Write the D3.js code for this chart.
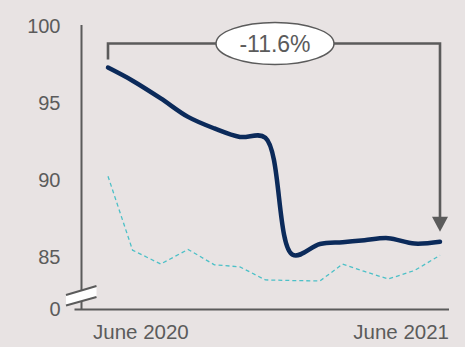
<!DOCTYPE html>
<html>
<head>
<meta charset="utf-8">
<script src="https://cdn.jsdelivr.net/npm/d3@7"></script>
<style>
  html, body { margin: 0; padding: 0; background: #e8e3e3; }
  svg { display: block; font-family: "Liberation Sans", Arial, sans-serif; }
</style>
</head>
<body>
<svg id="chart" width="465" height="347"></svg>
<script>
// Period end dates (4-weekly reporting periods)
const periods = ["2020-06-01","2020-06-28","2020-07-29","2020-08-28","2020-09-26","2020-10-24",
                 "2020-11-21","2020-12-21","2021-01-20","2021-02-14","2021-03-10","2021-04-05",
                 "2021-05-04","2021-06-01"];
// Main index (solid navy line)
const mainIndex = [97.3, 96.45, 95.3, 94.1, 93.35, 92.8, 92.75, 85.15, 85.85, 85.97, 86.1, 86.23, 85.88, 86.0];
// Comparison index (dashed teal line)
const compIndex = [90.25, 85.45, 84.55, 85.5, 84.5, 84.37, 83.52, 83.48, 83.45, 84.55, 84.07, 83.58, 84.13, 85.12];
// Y axis: values below 85 are cut, the floor is labelled 0
const axisFloor = 81.6;
const yTickValues = [axisFloor, 85, 90, 95, 100];
const yTickLabels = ["0", "85", "90", "95", "100"];
const xLabels = ["June 2020", "June 2021"];
const changeLabel = "-11.6%";

const grey = "#5b5b5b";
const navy = "#0b2a5a";
const teal = "#4cc0c7";

const parse = d3.timeParse("%Y-%m-%d");
const dates = periods.map(parse);

const svg = d3.select("#chart");

const x = d3.scaleTime()
  .domain([dates[0], dates[dates.length - 1]])
  .range([108, 440]);
const y = d3.scaleLinear()
  .domain([axisFloor, 100])
  .range([309.5, 26]);

const axisX = 81.5;
const baseY = y(axisFloor);

// Y axis labels
const yAxis = d3.axisLeft(y)
  .tickValues(yTickValues)
  .tickFormat((d, i) => yTickLabels[i])
  .tickSize(0)
  .tickPadding(21);
const yg = svg.append("g").attr("transform", `translate(${axisX},0)`).call(yAxis);
yg.select(".domain").remove();
yg.selectAll("text")
  .attr("fill", grey)
  .style("font-size", "20px")
  .style("font-family", "Liberation Sans, Arial, sans-serif");

// Axis lines
svg.append("line")
  .attr("x1", axisX).attr("x2", axisX)
  .attr("y1", y(100) - 1).attr("y2", baseY)
  .attr("stroke", grey).attr("stroke-width", 2);
svg.append("line")
  .attr("x1", axisX - 7).attr("x2", 449)
  .attr("y1", baseY).attr("y2", baseY)
  .attr("stroke", grey).attr("stroke-width", 2);

// Axis break marker
const bx0 = 66, bx1 = 96.5;
const bTop0 = baseY - 14.5, bTop1 = baseY - 23.5;
const bBot0 = baseY - 4, bBot1 = baseY - 12.5;
svg.append("polygon")
  .attr("points", `${bx0},${bTop0} ${bx1},${bTop1} ${bx1},${bBot1} ${bx0},${bBot0}`)
  .attr("fill", "#ffffff");
svg.append("line").attr("x1", bx0).attr("y1", bTop0).attr("x2", bx1).attr("y2", bTop1)
  .attr("stroke", grey).attr("stroke-width", 2);
svg.append("line").attr("x1", bx0).attr("y1", bBot0).attr("x2", bx1).attr("y2", bBot1)
  .attr("stroke", grey).attr("stroke-width", 2);

// X labels
svg.append("text").text(xLabels[0])
  .attr("x", 93).attr("y", 339)
  .attr("fill", grey).style("font-size", "20.5px");
svg.append("text").text(xLabels[1])
  .attr("x", 449).attr("y", 339)
  .attr("text-anchor", "end")
  .attr("fill", grey).style("font-size", "20.5px");

// Comparison line
const lineStraight = d3.line()
  .x((d, i) => x(dates[i]))
  .y(d => y(d));
svg.append("path")
  .datum(compIndex)
  .attr("d", lineStraight)
  .attr("fill", "none")
  .attr("stroke", teal)
  .attr("stroke-width", 1.3)
  .attr("stroke-dasharray", "4,3");

// Main line, smoothed
const lineSmooth = d3.line()
  .x((d, i) => x(dates[i]))
  .y(d => y(d))
  .curve(d3.curveCatmullRom.alpha(0.5));
svg.append("path")
  .datum(mainIndex)
  .attr("d", lineSmooth)
  .attr("fill", "none")
  .attr("stroke", navy)
  .attr("stroke-width", 4.5)
  .attr("stroke-linecap", "round");

// Change callout bracket from first to last value
const xStart = x(dates[0]);
const xEnd = x(dates[dates.length - 1]);
const bracketY = 43.5;
const arrowTip = y(mainIndex[mainIndex.length - 1]) - 10;
svg.append("path")
  .attr("d", `M${xStart},${y(mainIndex[0]) - 8} V${bracketY} H${xEnd} V${arrowTip - 14}`)
  .attr("fill", "none")
  .attr("stroke", grey)
  .attr("stroke-width", 2.6);
svg.append("path")
  .attr("d", `M${xEnd - 8},${arrowTip - 15} L${xEnd + 8},${arrowTip - 15} L${xEnd},${arrowTip} Z`)
  .attr("fill", grey);

const ecx = 275;
svg.append("ellipse")
  .attr("cx", ecx).attr("cy", bracketY)
  .attr("rx", 59).attr("ry", 21)
  .attr("fill", "#ffffff")
  .attr("stroke", grey)
  .attr("stroke-width", 1.5);
svg.append("text").text(changeLabel)
  .attr("x", ecx).attr("y", bracketY + 8)
  .attr("text-anchor", "middle")
  .attr("fill", grey)
  .style("font-size", "23px");
</script>
</body>
</html>
